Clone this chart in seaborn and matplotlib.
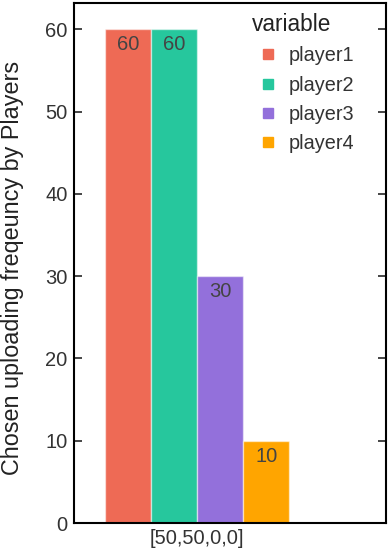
import matplotlib
matplotlib.use("Agg")
import matplotlib.pyplot as plt
from matplotlib.lines import Line2D
import seaborn as sns
import pandas as pd

categories = ["[50,50,0,0]"]
players = ["player1", "player2", "player3", "player4"]
values = [60, 60, 30, 10]
colors = ["#EE6A55", "#26C79D", "#9370DB", "#FFA500"]

df = pd.DataFrame({"x": categories * len(players), "variable": players, "value": values})

sns.set_style("ticks")
plt.rcParams["font.family"] = ["Liberation Sans", "DejaVu Sans"]

fig = plt.figure(figsize=(3.89, 5.52), dpi=100)
ax = fig.add_axes([0.190, 0.0525, 0.802, 0.942])

sns.barplot(data=df, x="x", y="value", hue="variable", palette=colors,
            saturation=1, width=0.8, ax=ax, edgecolor=(1, 1, 1, 0.5), linewidth=1,
            legend=False)

for cont in ax.containers:
    ax.bar_label(cont, padding=-18, fontsize=14.5, color="#444444")

ax.set_xlim(-0.535, 0.82)
ax.set_ylim(0, 63.2)
ax.set_yticks([0, 10, 20, 30, 40, 50, 60])
ax.set_xlabel("")
ax.set_ylabel("Chosen uploading freqeuncy by Players", fontsize=16.8, color="#222222")
ax.yaxis.label.set_va("center")
ax.yaxis.set_label_coords(-0.1955, 0.49)
ax.tick_params(axis="y", direction="in", length=6, width=1.2, right=True, labelsize=14.5,
               labelcolor="#333333", pad=4.5)
ax.tick_params(axis="x", direction="in", length=0, labelsize=14.5, labelcolor="#333333", pad=4.5)
for s in ax.spines.values():
    s.set_linewidth(1.5)
    s.set_color("black")

handles = [Line2D([], [], linestyle="none", marker="s", markersize=7.2,
                  markerfacecolor=c, markeredgecolor=c) for c in colors]
leg = ax.legend(handles, players, title="variable", frameon=False, loc="upper left",
                bbox_to_anchor=(0.57, 0.981), borderaxespad=0, borderpad=0,
                fontsize=14.3, title_fontsize=16.3,
                handlelength=1.6, handletextpad=0.25, labelspacing=0.52)
leg._legend_box.align = "left"
for t in leg.get_texts():
    t.set_color("#333333")
leg.get_title().set_color("#222222")

fig.savefig("out.png", dpi=100)
